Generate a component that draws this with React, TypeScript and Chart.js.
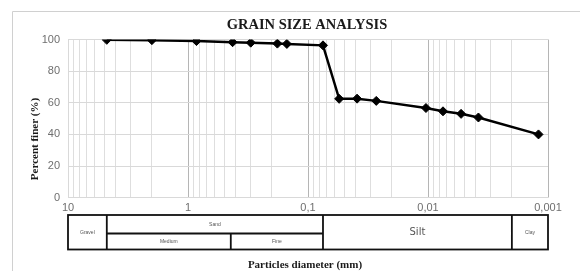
import React, { useEffect, useRef } from 'react';
import { Chart, registerables } from 'chart.js';

Chart.register(...registerables);

// Sieve / hydrometer results
const diameters = [4.75, 2.0, 0.85, 0.425, 0.3, 0.18, 0.15, 0.075, 0.055, 0.039, 0.027, 0.0104, 0.0075, 0.0053, 0.0038, 0.0012];
const percentFiner = [99.8, 99.6, 99.0, 98.3, 98.0, 97.4, 97.2, 96.3, 62.5, 62.6, 61.2, 56.7, 54.6, 53.0, 50.7, 40.0];

// Axis ticks
const xMajorTicks = [10, 1, 0.1, 0.01, 0.001];
const xTickLabels = ['10', '1', '0,1', '0,01', '0,001'];
const yTickValues = [0, 20, 40, 60, 80, 100];

// Soil classification strip
const zoneBounds = [10, 4.75, 0.075, 0.002, 0.001];
const zoneNames = ['Gravel', 'Sand', 'Silt', 'Clay'];
const sandBounds = [4.75, 0.44, 0.075];
const sandNames = ['Medium', 'Fine'];

const TITLE = 'GRAIN SIZE ANALYSIS';
const X_TITLE = 'Particles diameter (mm)';
const Y_TITLE = 'Percent finer (%)';

const isMajor = (v: number) => xMajorTicks.some((m) => Math.abs(m - v) / m < 1e-6);

const decorPlugin = {
  id: 'decor',
  afterDraw(chart: any) {
    const ctx = chart.ctx as CanvasRenderingContext2D;
    const xs = chart.scales.x;
    ctx.save();

    // outer frame
    ctx.strokeStyle = '#d0d0d0';
    ctx.lineWidth = 1;
    ctx.beginPath();
    ctx.moveTo(12.5, 272);
    ctx.lineTo(12.5, 11.5);
    ctx.lineTo(580, 11.5);
    ctx.stroke();

    // title
    ctx.fillStyle = '#1a1a1a';
    ctx.textAlign = 'center';
    ctx.textBaseline = 'middle';
    ctx.font = 'bold 14.5px "Liberation Serif", serif';
    ctx.fillText(TITLE, 307, 25);

    // x title
    ctx.font = 'bold 11px "Liberation Serif", serif';
    ctx.fillText(X_TITLE, 305, 265);

    // y title
    ctx.save();
    ctx.translate(35, 139);
    ctx.rotate(-Math.PI / 2);
    ctx.fillText(Y_TITLE, 0, 0);
    ctx.restore();

    // classification table
    const top = 215;
    const mid = 233.5;
    const bot = 249.5;
    const left = xs.getPixelForValue(zoneBounds[0]);
    const right = xs.getPixelForValue(zoneBounds[zoneBounds.length - 1]);
    ctx.strokeStyle = '#111';
    ctx.lineWidth = 1.8;
    ctx.strokeRect(left, top, right - left, bot - top);
    ctx.beginPath();
    for (let i = 1; i < zoneBounds.length - 1; i++) {
      const px = xs.getPixelForValue(zoneBounds[i]);
      ctx.moveTo(px, top);
      ctx.lineTo(px, bot);
    }
    const sL = xs.getPixelForValue(sandBounds[0]);
    const sR = xs.getPixelForValue(sandBounds[sandBounds.length - 1]);
    ctx.moveTo(sL, mid);
    ctx.lineTo(sR, mid);
    for (let i = 1; i < sandBounds.length - 1; i++) {
      const px = xs.getPixelForValue(sandBounds[i]);
      ctx.moveTo(px, mid);
      ctx.lineTo(px, bot);
    }
    ctx.stroke();

    ctx.fillStyle = '#555';
    for (let i = 0; i < zoneNames.length; i++) {
      const a = xs.getPixelForValue(zoneBounds[i]);
      const b = xs.getPixelForValue(zoneBounds[i + 1]);
      const name = zoneNames[i];
      if (name === 'Sand') {
        ctx.font = '5px "Liberation Sans", sans-serif';
        ctx.fillText(name, (a + b) / 2, (top + mid) / 2);
      } else if (name === 'Silt') {
        ctx.font = '10px "DejaVu Sans", sans-serif';
        ctx.fillText(name, (a + b) / 2, (top + bot) / 2);
      } else {
        ctx.font = '5px "Liberation Sans", sans-serif';
        ctx.fillText(name, (a + b) / 2, (top + bot) / 2);
      }
    }
    ctx.font = '5px "Liberation Sans", sans-serif';
    for (let i = 0; i < sandNames.length; i++) {
      const a = xs.getPixelForValue(sandBounds[i]);
      const b = xs.getPixelForValue(sandBounds[i + 1]);
      ctx.fillText(sandNames[i], (a + b) / 2, (mid + bot) / 2);
    }
    ctx.restore();
  },
};

export default function App() {
  const ref = useRef<HTMLCanvasElement | null>(null);

  useEffect(() => {
    if (!ref.current) return;
    const points = diameters.map((d, i) => ({ x: d, y: percentFiner[i] }));
    const chart = new Chart(ref.current, {
      type: 'scatter',
      data: {
        datasets: [
          {
            data: points,
            showLine: true,
            borderColor: '#000',
            borderWidth: 2.5,
            pointStyle: 'rectRot',
            pointRadius: 4.5,
            pointBorderWidth: 1,
            pointBackgroundColor: '#000',
            pointBorderColor: '#000',
          },
        ],
      },
      options: {
        responsive: false,
        animation: false,
        layout: { padding: { top: 39.5, right: 32, bottom: 0, left: 0 } },
        plugins: {
          legend: { display: false },
          tooltip: { enabled: false },
          title: { display: false },
        },
        scales: {
          x: {
            type: 'logarithmic',
            reverse: true,
            min: 0.001,
            max: 10,
            afterBuildTicks: (scale: any) => {
              const t: any[] = [];
              for (let e = -3; e <= 0; e++) {
                for (let m = 1; m <= 9; m++) {
                  const v = m * Math.pow(10, e);
                  t.push({ value: v, major: m === 1 });
                }
              }
              t.push({ value: 10, major: true });
              scale.ticks = t;
            },
            afterFit: (scale: any) => {
              scale.height = 73.3;
            },
            ticks: {
              autoSkip: false,
              maxRotation: 0,
              minRotation: 0,
              padding: 4,
              color: '#6f6f6f',
              font: { family: '"Liberation Sans", sans-serif', size: 11 },
              callback: (value: any) => {
                const v = Number(value);
                const idx = xMajorTicks.findIndex((m) => Math.abs(m - v) / m < 1e-6);
                return idx >= 0 ? xTickLabels[idx] : '';
              },
            },
            grid: {
              drawTicks: false,
              color: (c: any) => (c.tick && isMajor(c.tick.value) ? '#b5b5b5' : '#dedede'),
            },
            border: { color: '#d9d9d9' },
          },
          y: {
            min: 0,
            max: 100,
            afterBuildTicks: (scale: any) => {
              scale.ticks = yTickValues.map((v) => ({ value: v }));
            },
            afterFit: (scale: any) => {
              scale.width = 68;
            },
            ticks: {
              padding: 8,
              color: '#6f6f6f',
              font: { family: '"Liberation Sans", sans-serif', size: 11 },
            },
            grid: { drawTicks: false, color: '#d9d9d9' },
            border: { color: '#d9d9d9' },
          },
        },
      },
      plugins: [decorPlugin],
    } as any);
    return () => chart.destroy();
  }, []);

  return (
    <div style={{ position: 'fixed', left: 0, top: 0, width: 580, height: 271, background: '#fff' }}>
      <canvas ref={ref} width={580} height={271} />
    </div>
  );
}
